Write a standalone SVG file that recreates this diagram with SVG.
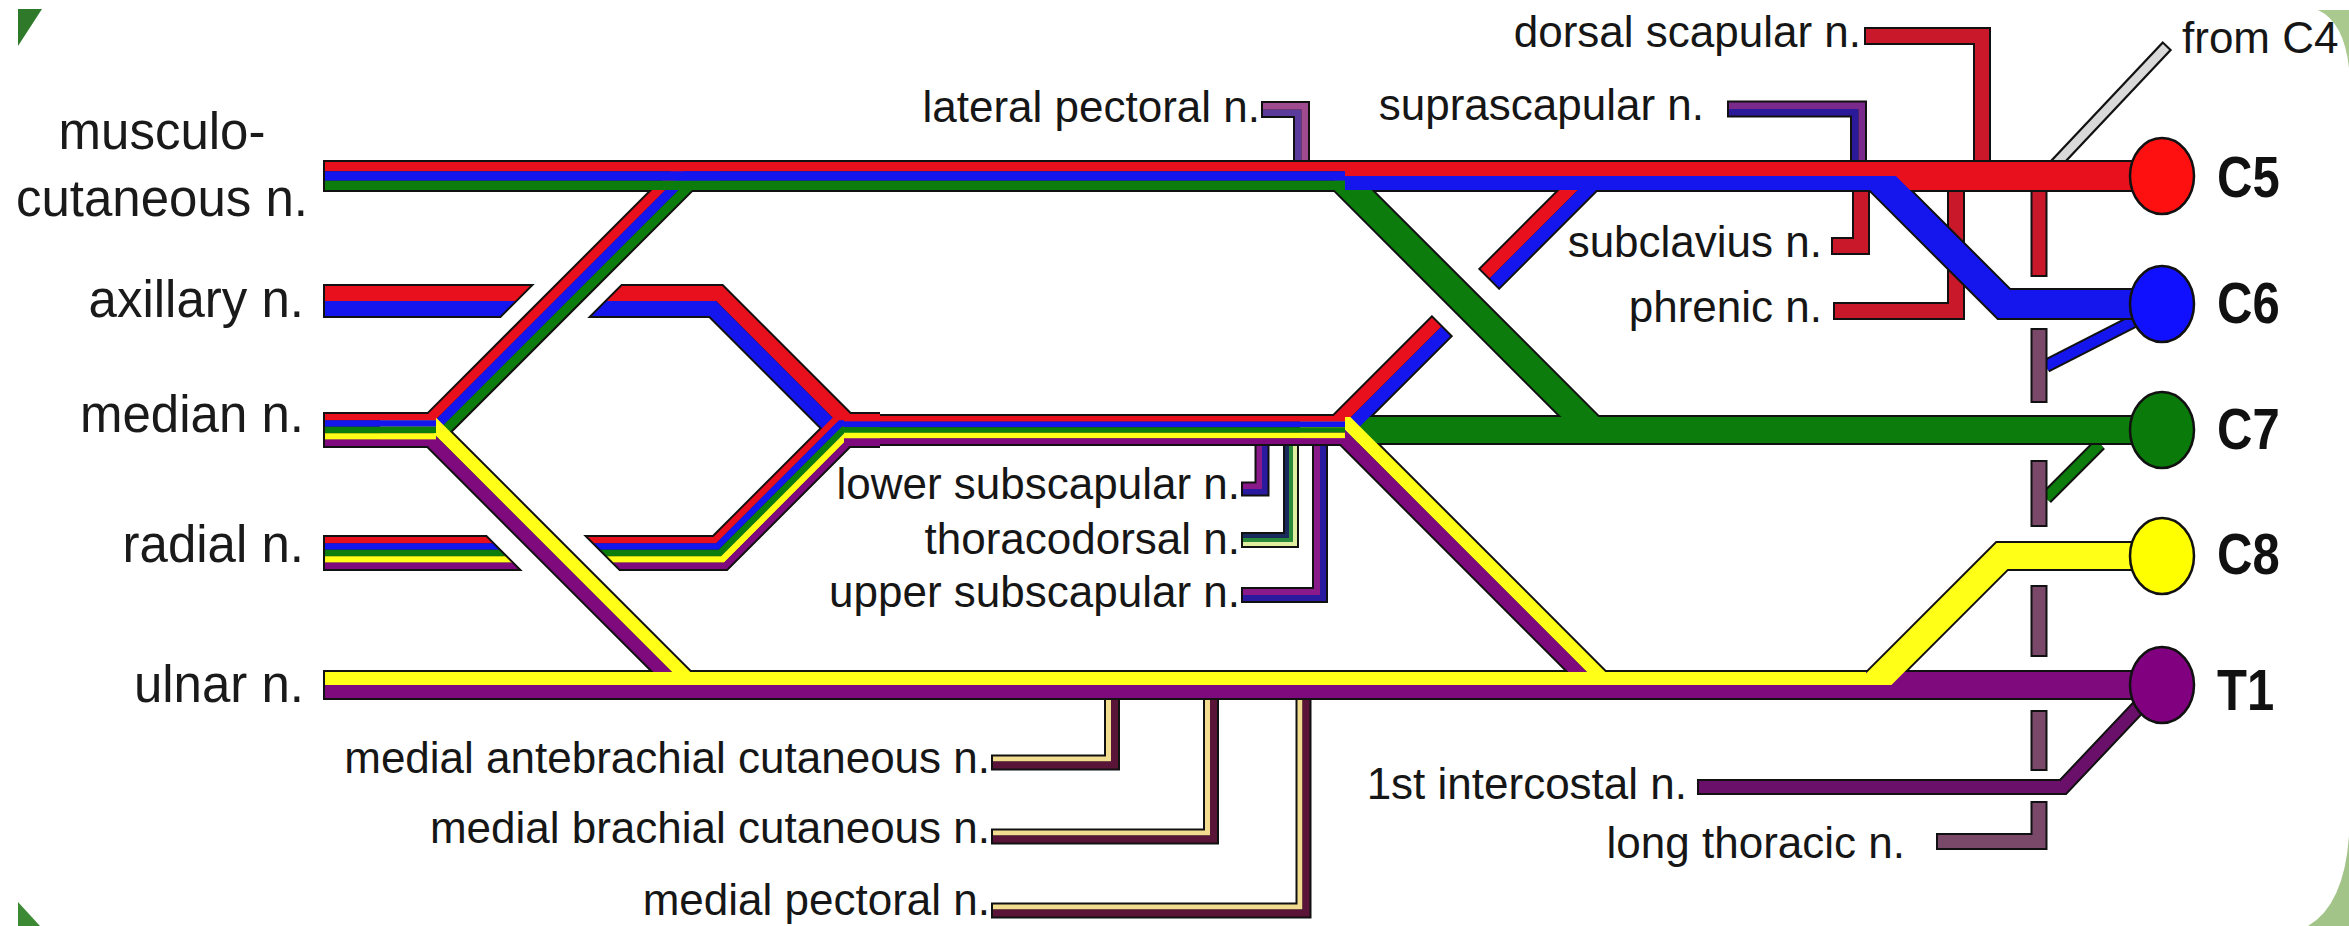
<svg xmlns="http://www.w3.org/2000/svg" width="2349" height="926" viewBox="0 0 2349 926">
<style>
.o{fill:none;stroke:#111;stroke-linejoin:miter;stroke-miterlimit:10}
.s{fill:none;stroke-linejoin:miter;stroke-miterlimit:10}
.r{stroke:#e8101c}.b{stroke:#1515ee}.g{stroke:#0c7c0c}.y{stroke:#ffff18}.p{stroke:#7e0a7e}
.lbl{font-family:"Liberation Sans",Arial,sans-serif;font-size:44px;fill:#161616}
.big{font-family:"Liberation Sans",Arial,sans-serif;font-size:51px;fill:#1a1a1a}
.root{font-family:"Liberation Sans",Arial,sans-serif;font-size:49px;font-weight:bold;fill:#111}
.ball{stroke:#111;stroke-width:2.5}
.dk{fill:#111}.lt{fill:#7a4868}
</style>
<defs>
<clipPath id="axS"><polygon points="-1000,-1000 1816,-1000 -1000,1816"/><polygon points="1908,-1000 4000,-1000 4000,4000 -1000,4000 -1000,1908"/></clipPath>
<clipPath id="axO"><polygon points="-1000,-1000 1818.8,-1000 -1000,1818.8"/><polygon points="1905.2,-1000 4000,-1000 4000,4000 -1000,4000 -1000,1905.2"/></clipPath>
<clipPath id="rdS"><polygon points="-1051,-1000 -3000,-1000 -3000,3000 2949,3000"/><polygon points="-949,-1000 4000,-1000 4000,3000 3051,3000"/></clipPath>
<clipPath id="rdO"><polygon points="-1048.2,-1000 -3000,-1000 -3000,3000 2951.8,3000"/><polygon points="-951.8,-1000 4000,-1000 4000,3000 3048.2,3000"/></clipPath>
<clipPath id="ubS"><polygon points="211.8,-1000 5000,-1000 5000,3000 4211.8,3000"/><polygon points="114.2,-1000 -1000,-1000 -1000,3000 4114.2,3000"/></clipPath>
<clipPath id="ubO"><polygon points="209,-1000 5000,-1000 5000,3000 4209,3000"/><polygon points="117,-1000 -1000,-1000 -1000,3000 4117,3000"/></clipPath>
<clipPath id="c8S"><rect x="0" y="0" width="2349" height="685"/></clipPath>
</defs>
<rect width="2349" height="926" fill="#ffffff"/>
<g id="frame">
<path d="M18,9 H42 L18,46 Z" fill="#2f7a2a"/>
<path d="M18,902 L40,926 H18 Z" fill="#3d8a35"/>
<path d="M2318,10 L2349,10 L2349,68 Q2344,22 2318,10 Z" fill="#a9c98f"/>
<path d="M2349,836 Q2344,905 2308,926 L2349,926 Z" fill="#a3c488"/>
</g>
<g id="connectors">
<!-- thin branches -->
<g id="lateral-pectoral-branch">
<path class="o" stroke-width="17" d="M1301.5,176 V109.5 H1261"/>
<path class="s" stroke="#5a3a9a" stroke-width="6.5" d="M1298.25,176 V112.75 H1263"/>
<path class="s" stroke="#a04a90" stroke-width="6.5" d="M1304.75,176 V106.25 H1263"/>
</g>
<g id="suprascapular-branch">
<path class="o" stroke-width="17" d="M1858.5,176 V109 H1727"/>
<path class="s" stroke="#2a1a9a" stroke-width="6.5" d="M1855.25,176 V112.25 H1729"/>
<path class="s" stroke="#7a2a8a" stroke-width="6.5" d="M1861.75,176 V105.75 H1729"/>
</g>
<g id="dorsal-scapular-branch">
<path class="o" stroke-width="18" d="M1982,176 V36 H1864"/>
<path class="s" stroke="#c8182a" stroke-width="14" d="M1982,176 V36 H1866"/>
</g>
<g id="subclavius-branch">
<path class="o" stroke-width="18" d="M1861,176 V246 H1831"/>
<path class="s" stroke="#c8182a" stroke-width="14" d="M1861,176 V246 H1833"/>
</g>
<g id="phrenic-branch">
<path class="o" stroke-width="18" d="M1956,176 V311 H1833"/>
<path class="s" stroke="#c8182a" stroke-width="14" d="M1956,176 V311 H1835"/>
</g>
<g id="from-c4-branch">
<path class="o" stroke-width="13" d="M2050,170 L2167.4,45.5"/>
<path class="s" stroke="#d9d9d9" stroke-width="8.5" d="M2050,170 L2166,47"/>
</g>
<g id="posterior-cord-branches">
<path class="o" stroke-width="15" d="M1262,440 V489 H1241"/>
<path class="s" stroke="#2a1aa0" stroke-width="5.5" d="M1264.75,440 V491.75 H1243"/>
<path class="s" stroke="#8a1a8a" stroke-width="5.5" d="M1259.25,440 V486.25 H1243"/>
<path class="o" stroke-width="16" d="M1291,440 V540 H1241"/>
<path class="s" stroke="#e0eea0" stroke-width="4" d="M1295,440 V544 H1243"/>
<path class="s" stroke="#2a8a3a" stroke-width="4" d="M1291,440 V540 H1243"/>
<path class="s" stroke="#1a2a5a" stroke-width="4" d="M1287,440 V536 H1243"/>
<path class="o" stroke-width="16" d="M1320,440 V595 H1241"/>
<path class="s" stroke="#2a1aa0" stroke-width="6" d="M1323,440 V598 H1243"/>
<path class="s" stroke="#8a1a8a" stroke-width="6" d="M1317,440 V592 H1243"/>
</g>
<g id="medial-branches">
<path class="o" stroke-width="16" d="M1112,690 V762.5 H991"/>
<path class="s" stroke="#f2dc90" stroke-width="5" d="M1108.5,690 V759 H993"/>
<path class="s" stroke="#5a1438" stroke-width="7" d="M1114.5,690 V765 H993"/>
<path class="o" stroke-width="16" d="M1211,690 V836.5 H991"/>
<path class="s" stroke="#f2dc90" stroke-width="5" d="M1207.5,690 V833 H993"/>
<path class="s" stroke="#5a1438" stroke-width="7" d="M1213.5,690 V839 H993"/>
<path class="o" stroke-width="16" d="M1303.5,690 V910.5 H991"/>
<path class="s" stroke="#f2dc90" stroke-width="5" d="M1300,690 V907 H993"/>
<path class="s" stroke="#5a1438" stroke-width="7" d="M1306,690 V913 H993"/>
</g>
<g id="intercostal-branch">
<path class="o" stroke-width="16" d="M2150,695 L2063,787 H1697"/>
<path class="s" stroke="#6a106a" stroke-width="12" d="M2150,695 L2063,787 H1699"/>
</g>
<g id="long-thoracic-branch">
<path class="o" stroke-width="14" d="M2140,318 L2046,366"/>
<path class="s b" stroke-width="10" d="M2140,318 L2046,366"/>
<path class="o" stroke-width="14" d="M2100,444 L2046,498"/>
<path class="s g" stroke-width="10" d="M2100,444 L2046,498"/>
<rect class="dk" x="2030.5" y="188" width="17" height="89"/><rect x="2032.5" y="188" width="13" height="87" fill="#c8182a"/>
<rect class="dk" x="2030.5" y="328" width="17" height="75"/><rect class="lt" x="2032.5" y="330" width="13" height="71"/>
<rect class="dk" x="2030.5" y="460" width="17" height="67"/><rect class="lt" x="2032.5" y="462" width="13" height="63"/>
<rect class="dk" x="2030.5" y="585" width="17" height="72"/><rect class="lt" x="2032.5" y="587" width="13" height="68"/>
<rect class="dk" x="2030.5" y="710" width="17" height="61"/><rect class="lt" x="2032.5" y="712" width="13" height="57"/>
<path class="o" stroke-width="17" d="M2039,801 V841.5 H1936"/>
<path class="s" stroke="#7a4868" stroke-width="13" d="M2039,803 V841.5 H1938"/>
</g>
<!-- main bundle outlines -->
<g id="outlines">
<path class="o" stroke-width="32" d="M380,430 H432 L686,176 H720"/>
<path class="o" stroke-width="30" d="M380,430 H430 L685,685 H720"/>
<path class="o" stroke-width="36" d="M323,430 H436"/>
<path class="o" stroke-width="34" clip-path="url(#axO)" d="M323,301 H716 L845,430 H880"/>
<path class="o" stroke-width="36" clip-path="url(#rdO)" d="M323,553 H720 L843,430 H880"/>
<path class="o" stroke-width="32" d="M844,430 H1347"/>
<path class="o" stroke-width="30" clip-path="url(#ubO)" d="M1300,430 H1338 L1592,176 H1620"/>
<path class="o" stroke-width="30" d="M1300,430 H1345 L1600,685 H1640"/>
<path class="o" stroke-width="30" d="M1339,176 L1593,430 H1620"/>
<path class="o" stroke-width="30" d="M1345,430 H2162"/>
<path class="o" stroke-width="32" d="M323,176 H2162"/>
<path class="o" stroke-width="32" d="M1872,172 L2004,304 H2162"/>
<path class="o" stroke-width="30" d="M323,685 H2162"/>
<path class="o" stroke-width="30" d="M1869,689 L2002,556 H2162"/>
</g>
<!-- main bundle stripes -->
<g id="stripes">
<path class="s g" stroke-width="26" d="M1345,430 H2162"/>
<g id="lateral-root">
<path class="s r" stroke-width="9.4" d="M380,420.67 H428.14 L682.14,166.67 H720"/>
<path class="s b" stroke-width="9.4" d="M380,430 H432 L686,176 H720"/>
<path class="s g" stroke-width="9.4" d="M380,439.33 H435.86 L689.86,185.33 H720"/>
</g>
<g id="medial-root">
<path class="s y" stroke-width="13" d="M380,423.5 H432.69 L687.69,678.5 H720"/>
<path class="s p" stroke-width="13" d="M380,436.5 H427.31 L682.31,691.5 H720"/>
</g>
<g id="median-stub">
<path class="s r" stroke-width="6.5" d="M325,417.2 H436"/>
<path class="s b" stroke-width="6.5" d="M325,423.6 H436"/>
<path class="s g" stroke-width="6.5" d="M325,430 H436"/>
<path class="s y" stroke-width="6.5" d="M325,436.4 H436"/>
<path class="s p" stroke-width="6.5" d="M325,442.8 H436"/>
</g>
<g id="axillary" clip-path="url(#axS)">
<path class="s r" stroke-width="15" d="M325,293.5 H719.11 L848.11,422.5 H880"/>
<path class="s b" stroke-width="15" d="M325,308.5 H712.89 L841.89,437.5 H880"/>
</g>
<g id="radial" clip-path="url(#rdS)">
<path class="s r" stroke-width="6.5" d="M325,540.2 H714.7 L837.7,417.2 H880"/>
<path class="s b" stroke-width="6.5" d="M325,546.6 H717.35 L840.35,423.6 H880"/>
<path class="s g" stroke-width="6.5" d="M325,553 H720 L843,430 H880"/>
<path class="s y" stroke-width="6.5" d="M325,559.4 H722.65 L845.65,436.4 H880"/>
<path class="s p" stroke-width="6.5" d="M325,565.8 H725.3 L848.3,442.8 H880"/>
</g>
<g id="upper-trunk-posterior" clip-path="url(#ubS)">
<path class="s r" stroke-width="13" d="M1300,423.5 H1335.31 L1589.31,169.5 H1620"/>
<path class="s b" stroke-width="13" d="M1300,436.5 H1340.69 L1594.69,182.5 H1620"/>
</g>
<g id="lower-trunk-posterior">
<path class="s y" stroke-width="13" d="M1300,423.5 H1347.69 L1602.69,678.5 H1640"/>
<path class="s p" stroke-width="13" d="M1300,436.5 H1342.31 L1597.31,691.5 H1640"/>
</g>
<path class="s g" stroke-width="26" d="M1339,176 L1593,430 H1620"/>
<g id="posterior-cord">
<path class="s r" stroke-width="5.7" d="M844,418.8 H1345"/>
<path class="s b" stroke-width="5.7" d="M844,424.4 H1345"/>
<path class="s g" stroke-width="5.7" d="M844,430 H1345"/>
<path class="s y" stroke-width="5.7" d="M844,435.6 H1345"/>
<path class="s p" stroke-width="5.7" d="M844,441.2 H1345"/>
</g>
<g id="lateral-cord">
<path class="s r" stroke-width="9.4" d="M325,166.67 H1345"/>
<path class="s b" stroke-width="9.4" d="M325,176 H1345"/>
<path class="s g" stroke-width="9.4" d="M325,185.33 H1345"/>
</g>
<path class="s r" stroke-width="14" d="M1880,183 H2162"/>
<path class="s b" stroke-width="28" d="M1872,172 L2004,304 H2162"/>
<path class="s r" stroke-width="14" d="M1345,169 H2162"/>
<path class="s b" stroke-width="14" d="M1345,183 H1880"/>
<g id="ulnar">
<path class="s y" stroke-width="13" d="M325,678.5 H1866"/>
<path class="s p" stroke-width="13" d="M325,691.5 H2162"/>
<path class="s p" stroke-width="13" d="M1866,678.5 H2162"/>
</g>
<path class="s y" stroke-width="26" clip-path="url(#c8S)" d="M1869,689 L2002,556 H2162"/>
</g>
</g>
<g id="C5"><ellipse class="ball" cx="2162" cy="176" rx="32" ry="38" fill="#ff1010"/><text class="root" transform="translate(2217,197) scale(1,1.18)">C5</text></g>
<g id="C6"><ellipse class="ball" cx="2162" cy="304" rx="32" ry="38" fill="#1010ff"/><text class="root" transform="translate(2217,323) scale(1,1.18)">C6</text></g>
<g id="C7"><ellipse class="ball" cx="2162" cy="430" rx="32" ry="38" fill="#0a7a0a"/><text class="root" transform="translate(2217,449) scale(1,1.18)">C7</text></g>
<g id="C8"><ellipse class="ball" cx="2162" cy="556" rx="32" ry="38" fill="#ffff00"/><text class="root" transform="translate(2217,574) scale(1,1.18)">C8</text></g>
<g id="T1"><ellipse class="ball" cx="2162" cy="685" rx="32" ry="38" fill="#800080"/><text class="root" transform="translate(2217,710) scale(1,1.18)">T1</text></g>
<g id="musculocutaneous"><text class="big" x="162" y="149" text-anchor="middle">musculo-</text><text class="big" x="162" y="216" text-anchor="middle">cutaneous n.</text></g>
<g id="axillary-label"><text class="big" x="304" y="317" text-anchor="end">axillary n.</text></g>
<g id="median-label"><text class="big" x="304" y="432" text-anchor="end">median n.</text></g>
<g id="radial-label"><text class="big" x="304" y="562" text-anchor="end">radial n.</text></g>
<g id="ulnar-label"><text class="big" x="304" y="702" text-anchor="end">ulnar n.</text></g>
<g id="lateral-pectoral"><text class="lbl" x="1260" y="122" text-anchor="end">lateral pectoral n.</text></g>
<g id="suprascapular"><text class="lbl" x="1704" y="120" text-anchor="end">suprascapular n.</text></g>
<g id="dorsal-scapular"><text class="lbl" x="1861" y="47" text-anchor="end">dorsal scapular n.</text></g>
<g id="from-c4"><text class="lbl" x="2182" y="53">from C4</text></g>
<g id="subclavius"><text class="lbl" x="1822" y="257" text-anchor="end">subclavius n.</text></g>
<g id="phrenic"><text class="lbl" x="1822" y="322" text-anchor="end">phrenic n.</text></g>
<g id="lower-subscapular"><text class="lbl" x="1240" y="499" text-anchor="end">lower subscapular n.</text></g>
<g id="thoracodorsal"><text class="lbl" x="1240" y="554" text-anchor="end">thoracodorsal n.</text></g>
<g id="upper-subscapular"><text class="lbl" x="1240" y="607" text-anchor="end">upper subscapular n.</text></g>
<g id="medial-antebrachial"><text class="lbl" x="990" y="773" text-anchor="end">medial antebrachial cutaneous n.</text></g>
<g id="medial-brachial"><text class="lbl" x="990" y="843" text-anchor="end">medial brachial cutaneous n.</text></g>
<g id="medial-pectoral"><text class="lbl" x="990" y="915" text-anchor="end">medial pectoral n.</text></g>
<g id="first-intercostal"><text class="lbl" x="1687" y="799" text-anchor="end">1st intercostal n.</text></g>
<g id="long-thoracic"><text class="lbl" x="1905" y="858" text-anchor="end">long thoracic n.</text></g>
</svg>
